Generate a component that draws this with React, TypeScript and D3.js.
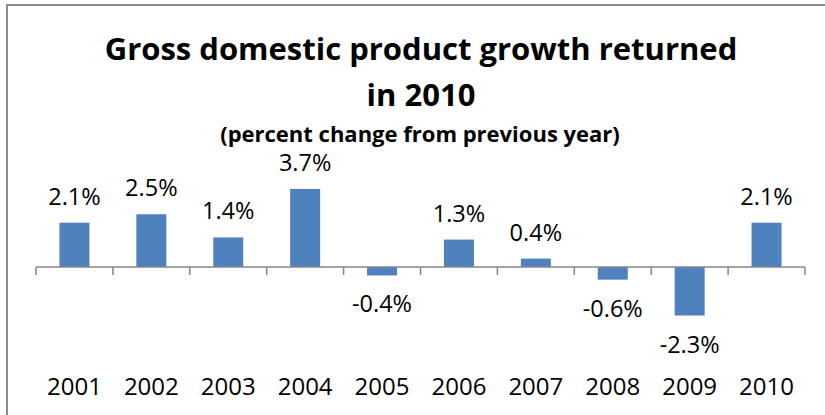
import React from "react";
import * as d3 from "d3";

const years = ["2001", "2002", "2003", "2004", "2005", "2006", "2007", "2008", "2009", "2010"];
const growth = [2.1, 2.5, 1.4, 3.7, -0.4, 1.3, 0.4, -0.6, -2.3, 2.1];
const titleLines = ["Gross domestic product growth returned", "in 2010"];
const subtitle = "(percent change from previous year)";

const W = 825;
const H = 415;
const FONT = "'Open Sans', Lato, sans-serif";

export default function App() {
  const x = d3.scaleBand<string>().domain(years).range([36, 805]).paddingInner(0.61).paddingOuter(0.305);
  const cat = d3.scaleBand<string>().domain(years).range([36, 805]);
  const y = d3.scaleLinear().domain([-3, 4]).range([267 + 3 * 21.1, 267 - 4 * 21.1]);
  const y0 = y(0);
  const ticks = d3.range(years.length + 1).map((i) => 36 + i * cat.step());

  return (
    <svg width={W} height={H} style={{ position: "absolute", left: 0, top: 0 }} fontFamily={FONT}>
      <rect x={0} y={0} width={W} height={H} fill="#fff" />
      <rect x={7} y={5} width={W + 10} height={H + 10} fill="none" stroke="#8c8c8c" strokeWidth={2} />
      <text x={421} y={60} textAnchor="middle" fontSize={31} fontWeight="bold" fill="#000">
        {titleLines[0]}
      </text>
      <text x={421} y={106} textAnchor="middle" fontSize={31} fontWeight="bold" fill="#000">
        {titleLines[1]}
      </text>
      <text x={420} y={142} textAnchor="middle" fontSize={22} fontWeight="bold" fill="#000">
        {subtitle}
      </text>
      {years.map((yr, i) => {
        const v = growth[i];
        const top = Math.min(y(v), y0);
        const h = Math.abs(y(v) - y0);
        const bx = x(yr)!;
        const cx = bx + x.bandwidth() / 2;
        const ly = v >= 0 ? y(v) - 18 : y(v) + 37;
        return (
          <g key={yr}>
            <rect x={bx} y={top} width={x.bandwidth()} height={h} fill="#4F81BD" />
            <text x={cx} y={ly} textAnchor="middle" fontSize={23.5} fill="#000">
              {v.toFixed(1) + "%"}
            </text>
          </g>
        );
      })}
      <line x1={36} x2={805} y1={y0} y2={y0} stroke="#868686" strokeWidth={1.5} />
      {ticks.map((t, i) => (
        <line key={i} x1={t} x2={t} y1={y0} y2={y0 + 8} stroke="#868686" strokeWidth={1.5} />
      ))}
      {years.map((yr) => (
        <text key={yr} x={cat(yr)! + cat.bandwidth() / 2} y={395} textAnchor="middle" fontSize={24} fill="#000">
          {yr}
        </text>
      ))}
    </svg>
  );
}
